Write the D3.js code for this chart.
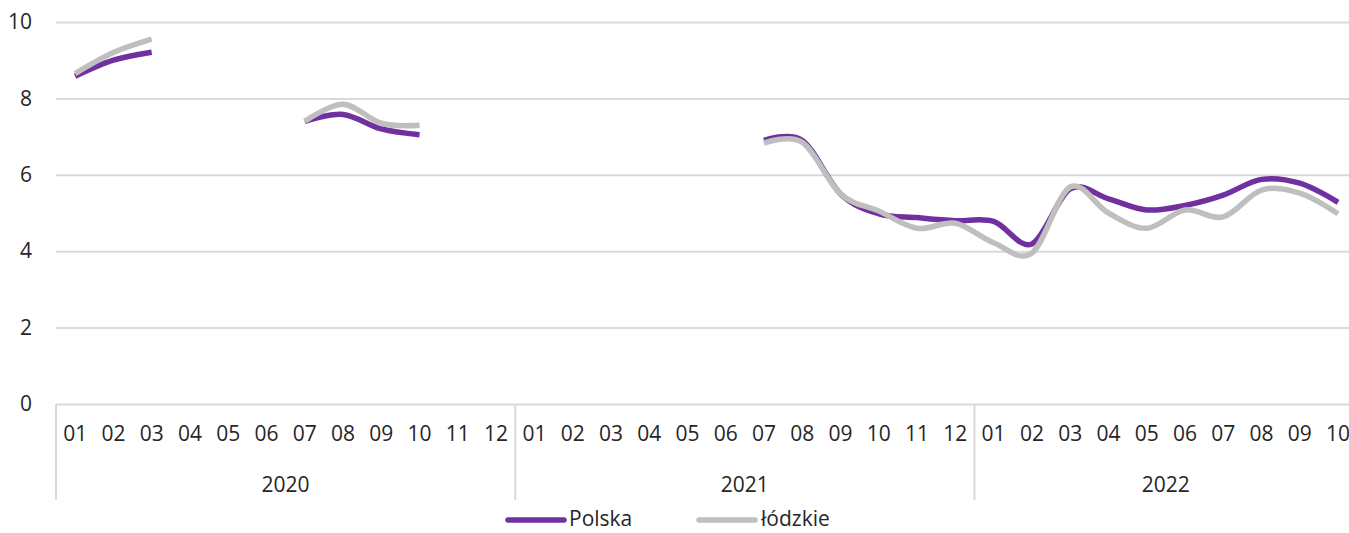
<!DOCTYPE html>
<html><head><meta charset="utf-8">
<script src="https://cdn.jsdelivr.net/npm/d3@7"></script>
<style>
body{margin:0;background:#fff;}
svg{display:block;font-family:"Open Sans", Roboto, sans-serif;}
</style></head><body>
<svg id="c" width="1349" height="533"></svg>
<script>
const years = ["2020","2021","2022"];
const monthsPerYear = [12,12,10];
const monthLabels = ["01","02","03","04","05","06","07","08","09","10","11","12"];
const yTicks = [0,2,4,6,8,10];
const polska = [8.58,9.0,9.21,null,null,null,7.4,7.58,7.2,7.05,null,null,
                null,null,null,null,null,null,6.9,6.9,5.5,4.98,4.88,4.8,
                4.78,4.19,5.63,5.37,5.08,5.2,5.47,5.88,5.78,5.28];
const lodzkie = [8.65,9.2,9.55,null,null,null,7.4,7.85,7.35,7.3,null,null,
                 null,null,null,null,null,null,6.83,6.85,5.5,5.05,4.6,4.73,
                 4.22,3.95,5.68,5.0,4.6,5.08,4.9,5.6,5.52,4.98];
const seriesNames = ["Polska","łódzkie"];
const colors = ["#7030A0","#BFBFBF"];
const FONT = "'Open Sans', Roboto, sans-serif";
const FS = "21px";

const cats = [];
years.forEach((y,yi)=>{ for(let m=0;m<monthsPerYear[yi];m++) cats.push({year:y, month:monthLabels[m], key:y+"-"+monthLabels[m]}); });

const svg = d3.select("#c");
const left = 56, bw = 38.27;
const x = d3.scaleBand().domain(cats.map(d=>d.key)).range([left, left + bw*cats.length]).paddingInner(0).paddingOuter(0);
const y = d3.scaleLinear().domain([0,10]).range([404,22]);

// gridlines + y labels
const yAxis = svg.append("g").attr("transform",`translate(${left},0)`)
  .call(d3.axisLeft(y).tickValues(yTicks).tickSize(-(1349-left)).tickPadding(24));
yAxis.select(".domain").remove();
yAxis.selectAll(".tick line").attr("stroke","#d9d9d9").attr("stroke-width",2);
yAxis.selectAll(".tick text").attr("fill","#262626").style("font-size",FS).attr("font-family",FONT);

// x month labels
const xAxis = svg.append("g").attr("transform",`translate(0,404)`)
  .call(d3.axisBottom(x).tickSize(0).tickPadding(22).tickFormat(k=>k.split("-")[1]));
xAxis.select(".domain").remove();
xAxis.selectAll(".tick text").attr("fill","#262626").style("font-size",FS).attr("font-family",FONT);

// year separators and labels
let idx = 0;
const bounds = [];
years.forEach((yr,yi)=>{
  const first = cats[idx].key, last = cats[idx+monthsPerYear[yi]-1].key;
  bounds.push({yr, x0:x(first), x1:x(last)+x.bandwidth()});
  idx += monthsPerYear[yi];
});
svg.append("g").selectAll("line").data(bounds).join("line")
  .attr("x1",d=>d.x0).attr("x2",d=>d.x0).attr("y1",404).attr("y2",500)
  .attr("stroke","#d9d9d9").attr("stroke-width",2);
svg.append("g").selectAll("text").data(bounds).join("text")
  .attr("x",d=>(d.x0+d.x1)/2).attr("y",492).attr("text-anchor","middle")
  .attr("fill","#262626").style("font-size",FS).text(d=>d.yr);

// lines
const line = d3.line()
  .defined(d=>d.v!=null)
  .x(d=>x(d.k)+x.bandwidth()/2).y(d=>y(d.v))
  .curve(d3.curveCardinal.tension(0));
[polska,lodzkie].forEach((s,si)=>{
  svg.append("path").datum(s.map((v,i)=>({k:cats[i].key,v})))
    .attr("d",line).attr("fill","none").attr("stroke",colors[si])
    .attr("stroke-width",5.5).attr("stroke-linecap","butt").attr("stroke-linejoin","round");
});

// legend
const leg = [{x:508,tx:569},{x:699,tx:761}];
seriesNames.forEach((n,i)=>{
  svg.append("line").attr("x1",leg[i].x).attr("x2",leg[i].x+56).attr("y1",520).attr("y2",520)
    .attr("stroke",colors[i]).attr("stroke-width",5.5).attr("stroke-linecap","round");
  svg.append("text").attr("x",leg[i].tx).attr("y",526).attr("fill","#262626").style("font-size",FS).text(n);
});
</script>
</body></html>
